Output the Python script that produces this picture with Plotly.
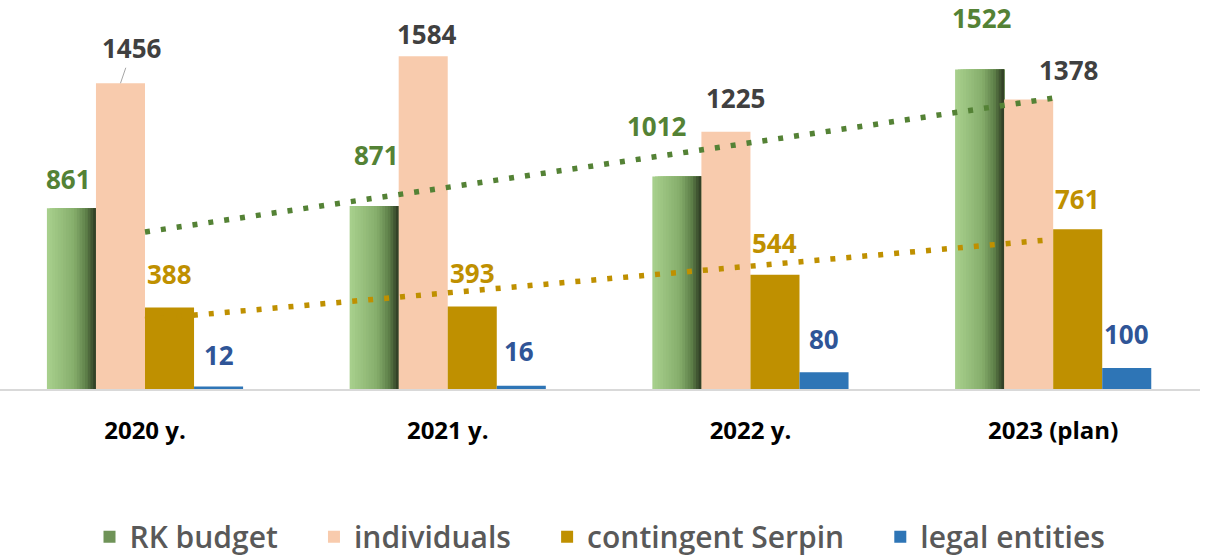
import numpy as np
import plotly.graph_objects as go

# data
years = ["2020 y.", "2021 y.", "2022 y.", "2023 (plan)"]
rk_budget = [861, 871, 1012, 1522]
individuals = [1456, 1584, 1225, 1378]
contingent = [388, 393, 544, 761]
legal = [12, 16, 80, 100]

FONT = "Open Sans"
GREEN_TXT = "#548235"
GOLD = "#bf9000"
PEACH = "#f8cbad"
BLUE = "#2e75b6"
PAD = "\u00a0" * 4  # extra room between legend entries

bar_w = 0.162
offsets = [-2 * bar_w, -bar_w, 0, bar_w]

fig = go.Figure()

# RK budget bar drawn as stacked-over slices to fake Excel's horizontal gradient
def lerp(c1, c2, t):
    a = [int(c1[i:i + 2], 16) for i in (1, 3, 5)]
    b = [int(c2[i:i + 2], 16) for i in (1, 3, 5)]
    return "#%02x%02x%02x" % tuple(round(a[k] + (b[k] - a[k]) * t) for k in range(3))

stops = [(0.0, "#a9d18e"), (0.55, "#86ae6c"), (0.8, "#5e8049"), (1.0, "#2c3822")]
n_slices = 18
for s in range(n_slices):
    t = (s + 0.5) / n_slices
    for j in range(len(stops) - 1):
        if stops[j][0] <= t <= stops[j + 1][0]:
            tt = (t - stops[j][0]) / (stops[j + 1][0] - stops[j][0])
            col = lerp(stops[j][1], stops[j + 1][1], tt)
            break
    fig.add_trace(go.Bar(
        x=years, y=rk_budget, name="RK budget" + PAD,
        width=bar_w * (n_slices - s) / n_slices, offset=offsets[0] + s * bar_w / n_slices,
        marker=dict(color=col, line=dict(width=0)),
        showlegend=(s == 12), hoverinfo="y",
    ))

for vals, name, col, off in [(individuals, "individuals" + PAD, PEACH, offsets[1]),
                             (contingent, "contingent Serpin" + PAD, GOLD, offsets[2]),
                             (legal, "legal entities", BLUE, offsets[3])]:
    fig.add_trace(go.Bar(
        x=years, y=vals, name=name, width=bar_w, offset=off,
        marker=dict(color=col, line=dict(width=0)),
    ))

# linear trendlines (Excel style) for RK budget and contingent
idx = np.arange(len(years))
for vals, col in [(rk_budget, GREEN_TXT), (contingent, GOLD)]:
    k, b = np.polyfit(idx, vals, 1)
    fig.add_trace(go.Scatter(
        x=years, y=k * idx + b, mode="lines", showlegend=False, hoverinfo="skip",
        line=dict(color=col, width=5.5, dash="5px,11px"),
    ))

# data labels: (values, colour, x shift px, gap above bar px)
label_sets = [
    (rk_budget, GREEN_TXT, offsets[0], [-3, 2, -20, 2], [17, 39, 38, 39]),
    (individuals, "#404040", offsets[1], [12, 4, 10, 40], [27, 10, 22, 18]),
    (contingent, GOLD, offsets[2], [0, 0, 0, 0], [22, 21, 20, 18]),
    (legal, "#2f5597", offsets[3], [0, -2, 0, 0], [19, 23, 21, 22]),
]
for vals, col, off, dxs, gaps in label_sets:
    for i, v in enumerate(vals):
        xc = i + off + bar_w / 2
        font = dict(family=FONT, size=26, color=col, weight="bold")
        if vals is individuals and i == 0:
            fig.add_annotation(x=xc, y=v, text=str(v), showarrow=True,
                               ax=dxs[i], ay=-(gaps[i] + 8), arrowhead=0,
                               arrowwidth=1, arrowcolor="#a6a6a6", standoff=0,
                               font=font)
        else:
            fig.add_annotation(x=xc, y=v, text=str(v), showarrow=False,
                               xshift=dxs[i], yshift=gaps[i] - 8,
                               yanchor="bottom", font=font)

fig.update_layout(
    width=1216, height=559,
    margin=dict(l=0, r=16, t=11, b=170),
    plot_bgcolor="white", paper_bgcolor="white",
    barmode="overlay",
    xaxis=dict(
        type="category", range=[-0.479, 3.485],
        showline=True, linecolor="#d9d9d9", linewidth=1.5,
        showgrid=False, ticks="", ticklabelstandoff=19,
        tickfont=dict(family=FONT, size=24, color="black", weight="bold"),
    ),
    yaxis=dict(range=[0, 1800], visible=False),
    legend=dict(
        orientation="h", x=0.5, xanchor="center", yref="container",
        y=0.04, yanchor="middle",
        font=dict(family=FONT, size=30, color="#595959", weight=600),
    ),
)

fig.write_html("out.html", config={"displayModeBar": False},
               post_script="document.body.style.margin='0';")
